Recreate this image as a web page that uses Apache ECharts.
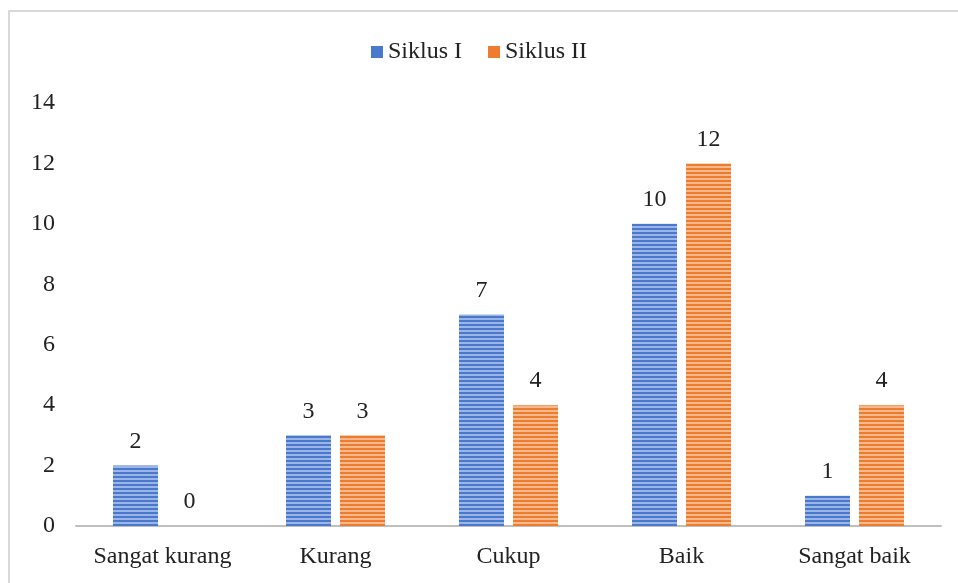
<!DOCTYPE html>
<html><head><meta charset="utf-8">
<script src="https://cdn.jsdelivr.net/npm/echarts@6/dist/echarts.min.js"></script>
<style>html,body{margin:0;padding:0;background:#fff}#c{width:958px;height:583px}</style>
</head><body><div id="c"></div>
<script>
const categories = ['Sangat kurang', 'Kurang', 'Cukup', 'Baik', 'Sangat baik'];
const siklus1 = [2, 3, 7, 10, 1];
const siklus2 = [0, 3, 4, 12, 4];
const seriesNames = ['Siklus I', 'Siklus II'];
const yTicks = { min: 0, max: 14, interval: 2 };

function stripe(dark, light) {
  const c = document.createElement('canvas');
  c.width = 4; c.height = 4;
  const g = c.getContext('2d');
  g.fillStyle = light; g.fillRect(0, 0, 4, 4);
  g.fillStyle = dark; g.fillRect(0, 0, 4, 2);
  return { image: c, repeat: 'repeat' };
}
const blueFill = stripe('#4a78cc', '#9bb5e6');
const orangeFill = stripe('#ee7c2e', '#f6b98e');
const font = 'Liberation Serif';
const fs = 24;

const chart = echarts.init(document.getElementById('c'));
chart.setOption({
  animation: false,
  textStyle: { fontFamily: font },
  legend: {
    top: 35, left: 'center', itemWidth: 12, itemHeight: 12, itemGap: 26, icon: 'rect',
    textStyle: { fontFamily: font, fontSize: fs, color: '#222' },
    data: [
      { name: seriesNames[0], itemStyle: { color: '#4a78cc' } },
      { name: seriesNames[1], itemStyle: { color: '#ee7c2e' } }
    ]
  },
  graphic: [{
    type: 'rect', shape: { x: 9, y: 11, width: 960, height: 600 },
    style: { fill: 'none', stroke: '#d9d9d9', lineWidth: 2 }, silent: true
  }],
  grid: { left: 76, right: 17, top: 103, bottom: 57 },
  xAxis: {
    type: 'category', data: categories,
    axisLine: { lineStyle: { color: '#bfbfbf', width: 2 } },
    axisTick: { show: false },
    axisLabel: { interval: 0, fontFamily: font, fontSize: fs, color: '#222', margin: 19 }
  },
  yAxis: {
    type: 'value', min: yTicks.min, max: yTicks.max, interval: yTicks.interval,
    axisLine: { show: false }, axisTick: { show: false },
    splitLine: { show: false },
    axisLabel: { fontFamily: font, fontSize: fs, color: '#222', margin: 21 }
  },
  series: [
    { name: seriesNames[0], type: 'bar', data: siklus1, barWidth: 45, barGap: '20%',
      itemStyle: { color: blueFill },
      label: { show: true, position: 'top', distance: 12, fontFamily: font, fontSize: fs, color: '#222' } },
    { name: seriesNames[1], type: 'bar', data: siklus2, barWidth: 45,
      itemStyle: { color: orangeFill },
      label: { show: true, position: 'top', distance: 12, fontFamily: font, fontSize: fs, color: '#222' } }
  ]
});
</script></body></html>
